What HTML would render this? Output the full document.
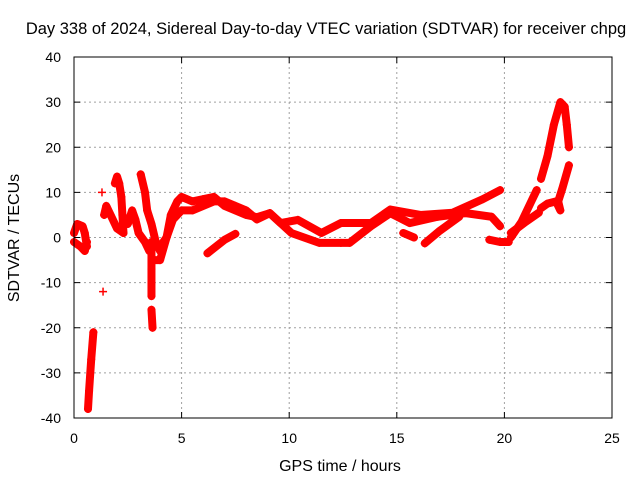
<!DOCTYPE html>
<html><head><meta charset="utf-8"><style>
body{margin:0;background:#fff;font-family:"Liberation Sans",sans-serif}
svg text{font-family:"Liberation Sans",sans-serif;font-size:14px;fill:#000}
</style></head><body>
<svg id="chart" width="640" height="480" xmlns="http://www.w3.org/2000/svg">
<rect width="640" height="480" fill="#fff"/>
<text x="326" y="34" text-anchor="middle" style="font-size:16.5px">Day 338 of 2024, Sidereal Day-to-day VTEC variation (SDTVAR) for receiver chpg</text>
<text x="340" y="471" text-anchor="middle" style="font-size:16px">GPS time / hours</text>
<text transform="translate(19,238) rotate(-90)" text-anchor="middle" style="font-size:16px">SDTVAR / TECUs</text>
<g id="grid"></g>
<g id="marks"></g>
<g id="axes"></g>
</svg>
<script>
const xTicks=[0,5,10,15,20,25];
const yTicks=[-40,-30,-20,-10,0,10,20,30,40];
const trackA=[[0,1],[0.15,3],[0.4,2.5],[0.5,1],[0.6,-2]];
const trackA2=[[0,-1],[0.3,-2],[0.5,-3],[0.6,-1]];
const trackSteep=[[0.65,-38],[0.7,-34],[0.8,-27],[0.9,-21]];
const isolated=[[1.3,10],[1.35,-12]];
const trackC=[[1.4,5],[1.5,7],[1.7,5],[2.0,2],[2.3,1]];
const trackC2=[[1.9,12],[2.0,13.5],[2.1,12],[2.2,9],[2.25,5],[2.3,1]];
const trackD=[[2.5,3],[2.7,6],[2.85,4],[3.0,1],[3.3,-1],[3.5,-3]];
const trackE=[[3.1,14],[3.3,10],[3.4,6],[3.6,3],[3.8,-1],[4.0,-3]];
const trackCol=[[3.6,-1],[3.6,-7],[3.6,-13]];
const trackCol2=[[3.6,-16],[3.65,-20]];
const trackF=[[3.7,-5],[4.0,-5],[4.3,0],[4.5,5],[4.8,8],[5,9],[5.5,8],[6,8.5],[6.5,9],[7,7],[7.5,6],[8,5],[8.5,4.5],[9.1,5.4],[9.6,3.2],[10.4,3.9],[11.5,1],[12.4,3.2],[13.8,3.2],[14.7,6.2],[16.1,5],[17.6,5.5],[19,8.5],[19.8,10.5]];
const trackF2=[[4.0,-2],[4.3,0],[4.6,4],[5,6],[5.5,6],[6,7],[6.5,8],[7,8],[7.5,7],[8,6],[8.5,4],[9.1,5.4],[10.1,1],[11.4,-1.2],[12.4,-1.2],[12.8,-1.2],[13.8,2.5],[14.7,5.4],[15.6,3.2],[16.9,4.6],[18.2,5.4],[19.4,4.6],[19.8,2.5]];
const trackG=[[6.2,-3.5],[6.6,-2],[7,-0.5],[7.5,0.8]];
const trackH=[[16.3,-1.3],[17,1.5],[17.9,4.6]];
const trackI=[[15.3,1],[15.8,0]];
const trackJ=[[19.3,-0.5],[19.8,-1],[20.2,-1]];
const trackK=[[20.3,0],[20.8,3.5],[21.5,10.5]];
const trackL=[[20.3,1],[21.0,3.5],[21.6,5.5]];
const trackPeak=[[21.7,13],[22.0,18],[22.3,25],[22.6,30],[22.8,29],[22.9,25],[23.0,20]];
const trackM=[[21.7,6.5],[22.0,7.5],[22.4,8],[22.6,6],[22.5,8],[22.7,11],[23.0,16]];
const tracks=[trackA,trackA2,trackSteep,isolated,trackC,trackC2,trackD,trackE,trackCol,trackCol2,trackF,trackF2,trackG,trackH,trackI,trackJ,trackK,trackL,trackPeak,trackM];

const X0=74,X1=612,Y0=57,Y1=418;
const xs=h=>X0+(h-0)/25*(X1-X0);
const ys=v=>Y1-(v+40)/80*(Y1-Y0);
const NS='http://www.w3.org/2000/svg';
function mk(t,a,p){const e=document.createElementNS(NS,t);for(const k in a)e.setAttribute(k,a[k]);p.appendChild(e);return e;}
const grid=document.getElementById('grid'),axes=document.getElementById('axes'),marks=document.getElementById('marks');
xTicks.forEach(t=>{
 const x=xs(t);
 if(t>0&&t<25){const g=mk('line',{x1:x,x2:x,y1:Y0,y2:Y1,stroke:'#a0a0a0','stroke-dasharray':'2,3'},grid);
 
 }
 mk('line',{x1:x,x2:x,y1:Y1,y2:Y1-6,stroke:'#000'},axes);
 mk('line',{x1:x,x2:x,y1:Y0,y2:Y0+6,stroke:'#000'},axes);
 const l=mk('text',{x:x,y:443,'text-anchor':'middle'},axes);l.textContent=t;
 
 
});
yTicks.forEach(t=>{
 const y=ys(t);
 if(t>-40&&t<40){const g=mk('line',{x1:X0,x2:X1,y1:y,y2:y,stroke:'#a0a0a0','stroke-dasharray':'2,3'},grid);
 
 }
 mk('line',{x1:X0,x2:X0+6,y1:y,y2:y,stroke:'#000'},axes);
 mk('line',{x1:X1,x2:X1-6,y1:y,y2:y,stroke:'#000'},axes);
 const l=mk('text',{x:61,y:y+5,'text-anchor':'end'},axes);l.textContent=t;
 
 
});
mk('rect',{x:X0,y:Y0,width:X1-X0,height:Y1-Y0,fill:'none',stroke:'#000'},axes);
tracks.forEach(tr=>{
 if(tr!==isolated){
 const p=mk('polyline',{points:tr.map(d=>xs(d[0])+','+ys(d[1])).join(' '),fill:'none',stroke:'#ff0000','stroke-width':8,'stroke-linejoin':'round','stroke-linecap':'round'},marks);
 
 
 }
 tr.forEach(d=>{
  const x=xs(d[0]),y=ys(d[1]);
  const m=mk('path',{d:`M${x-4},${y}H${x+4}M${x},${y-4}V${y+4}`,stroke:'#ff0000','stroke-width':1.5},marks);
  
  
 });
});
</script>
</body></html>
